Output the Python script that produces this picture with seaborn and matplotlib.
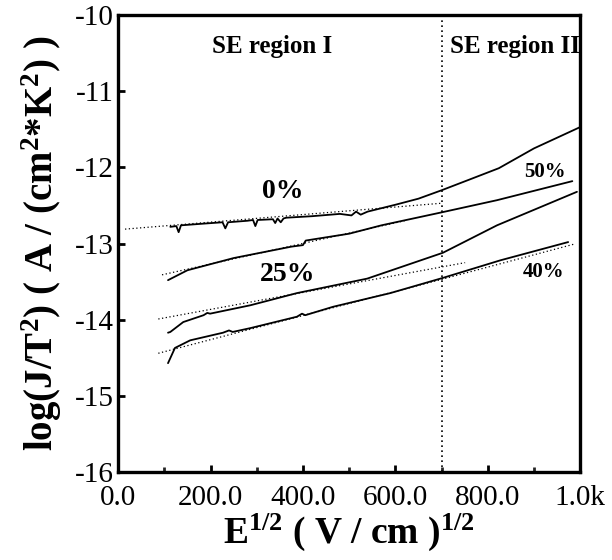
import matplotlib
matplotlib.use("Agg")
import matplotlib.pyplot as plt
from matplotlib.ticker import FixedLocator, MultipleLocator
import numpy as np
import pandas as pd
import seaborn as sns

# Measured curves: E^(1/2) in (V/cm)^(1/2) and log(J/T^2)
e_0 = [113, 126, 131, 136, 180, 226, 232, 238, 280, 292, 297, 302, 335, 340,
       345, 352, 358, 364, 420, 480, 505, 515, 525, 540, 600, 650, 700, 760,
       824, 900, 1000]
j_0 = [-12.78, -12.77, -12.85, -12.76, -12.74, -12.72, -12.80, -12.72, -12.70,
       -12.69, -12.77, -12.69, -12.68, -12.73, -12.67, -12.72, -12.67, -12.66,
       -12.64, -12.61, -12.63, -12.58, -12.62, -12.58, -12.49, -12.41, -12.30,
       -12.16, -12.01, -11.75, -11.47]

e_50 = [108, 150, 250, 375, 400, 406, 500, 570, 700, 820, 983]
j_50 = [-13.48, -13.35, -13.19, -13.04, -13.02, -12.96, -12.87, -12.76,
        -12.59, -12.43, -12.18]

e_25 = [108, 113, 141, 185, 193, 199, 286, 387, 539, 703, 820, 993]
j_25 = [-14.17, -14.16, -14.03, -13.94, -13.91, -13.92, -13.81, -13.65,
        -13.46, -13.12, -12.76, -12.32]

e_40 = [108, 123, 156, 227, 240, 248, 286, 387, 398, 405, 465, 589, 703,
        827, 974]
j_40 = [-14.57, -14.37, -14.27, -14.17, -14.14, -14.16, -14.11, -13.96,
        -13.92, -13.94, -13.83, -13.65, -13.45, -13.22, -12.98]

# Schottky-emission fits (dotted): start/end points of each line
fit_e0 = [15, 95, 87, 87, 700]
fit_e1 = [700, 620, 751, 700, 985]
fit_j0 = [-12.81, -13.41, -13.99, -14.44, -13.47]
fit_j1 = [-12.47, -12.70, -13.25, -13.47, -13.01]

x_ticks = [0, 200, 400, 600, 800, 1000]
x_tick_labels = ["0.0", "200.0", "400.0", "600.0", "800.0", "1.0k"]
y_ticks = [-16, -15, -14, -13, -12, -11, -10]
boundary = 700

curves = pd.concat([
    pd.DataFrame({"E": e_0, "J": j_0, "sample": "0%"}),
    pd.DataFrame({"E": e_50, "J": j_50, "sample": "50%"}),
    pd.DataFrame({"E": e_25, "J": j_25, "sample": "25%"}),
    pd.DataFrame({"E": e_40, "J": j_40, "sample": "40%"}),
], ignore_index=True)

fits = pd.concat([
    pd.DataFrame({"E": [a, b], "J": [c, d], "fit": i})
    for i, (a, b, c, d) in enumerate(zip(fit_e0, fit_e1, fit_j0, fit_j1))
], ignore_index=True)

sns.set_style("ticks")
plt.rcParams["font.family"] = ["Liberation Serif", "DejaVu Serif"]
plt.rcParams["mathtext.fontset"] = "custom"
plt.rcParams["mathtext.rm"] = "Liberation Serif"
plt.rcParams["mathtext.bf"] = "Liberation Serif:bold"
plt.rcParams["mathtext.default"] = "bf"

fig = plt.figure(figsize=(6.12, 5.6), dpi=100)
ax = fig.add_axes([0.193, 0.157, 0.755, 0.816])

sns.lineplot(data=fits, x="E", y="J", units="fit", estimator=None,
             color="black", lw=0.9, linestyle=(0, (1, 2)), ax=ax, sort=False)
sns.lineplot(data=curves, x="E", y="J", units="sample", estimator=None,
             color="black", lw=1.3, ax=ax, sort=False)
ax.axvline(boundary, color="black", lw=1.2, linestyle=(0, (1, 2)))

ax.set_xlim(0, 1000)
ax.set_ylim(-16, -10)
ax.xaxis.set_major_locator(FixedLocator(x_ticks))
ax.set_xticklabels(x_tick_labels)
ax.xaxis.set_minor_locator(MultipleLocator(100))
ax.set_yticks(y_ticks)
ax.set_yticklabels([str(v) for v in y_ticks])
ax.tick_params(axis="both", which="major", direction="in", length=5,
               width=2, labelsize=21, color="black", labelcolor="black")
ax.tick_params(axis="x", which="minor", direction="in", length=3.5, width=2)
ax.tick_params(axis="x", pad=9)
ax.tick_params(axis="y", pad=3)
for sp in ax.spines.values():
    sp.set_visible(True)
    sp.set_linewidth(2.4)
    sp.set_color("black")

ax.set_xlabel("E$^{1/2}$ ( V / cm )$^{1/2}$", fontsize=27, fontweight="bold",
              color="black", labelpad=1)
ax.set_ylabel("log(J/T$^{2}$) ( A / (cm$^{2}$*K$^{2}$) )", fontsize=28,
              fontweight="bold", color="black", labelpad=8)

bold = dict(fontweight="bold", color="black")
ax.text(333, -10.41, "SE region I", ha="center", va="center", fontsize=18, **bold)
ax.text(719, -10.41, "SE region II", ha="left", va="center", fontsize=18, **bold)
ax.text(357, -12.31, "0%", ha="center", va="center", fontsize=20, **bold)
ax.text(366, -13.40, "25%", ha="center", va="center", fontsize=20, **bold)
ax.text(924, -12.06, "50%", ha="center", va="center", fontsize=15, **bold)
ax.text(920, -13.37, "40%", ha="center", va="center", fontsize=15, **bold)

fig.savefig("out.png", dpi=100)
